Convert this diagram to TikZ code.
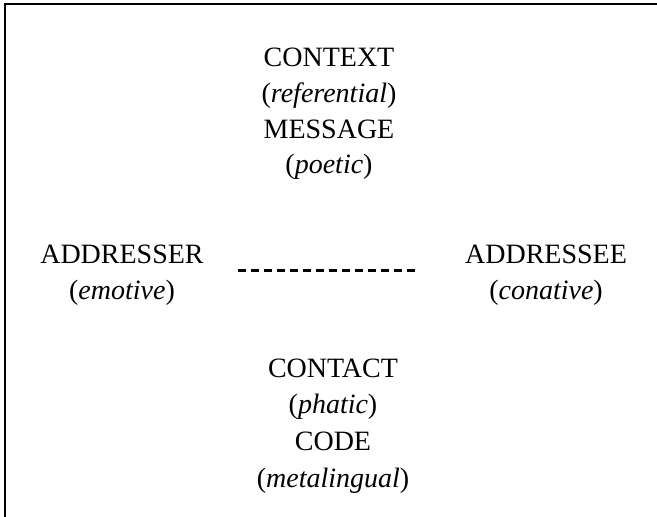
\documentclass[tikz,border=0pt]{standalone}
\usepackage{fontspec}
\setmainfont{Liberation Serif}
\begin{document}
\begin{tikzpicture}[x=1pt,y=-1pt,
  lbl/.style={anchor=base,inner sep=0pt,font=\fontsize{28}{34}\selectfont},
  frameline/.style={line width=1.6pt,line join=miter},
  channel/.style={line width=3pt,dash pattern=on 7.7pt off 5.3pt}]
\useasboundingbox (0,0) rectangle (657,517);
% open frame: left and top edges only
\draw[frameline] (5,517) -- (5,3.7) -- (657,3.7);

% upper block
\node[lbl] (context)  at (329,66.7)  {CONTEXT};
\node[lbl] (referential) at (329,102) {(\textit{referential})};
\node[lbl] (message)  at (329,138)  {MESSAGE};
\node[lbl] (poetic)   at (329,173.5) {(\textit{poetic})};

% sender and receiver
\node[lbl] (addresser) at (122,263.5) {ADDRESSER};
\node[lbl] (emotive)   at (122,299.5) {(\textit{emotive})};
\node[lbl] (addressee) at (546,263.5) {ADDRESSEE};
\node[lbl] (conative)  at (546,299.5) {(\textit{conative})};

% lower block
\node[lbl] (contact)     at (333,377)   {CONTACT};
\node[lbl] (phatic)      at (333,413.5) {(\textit{phatic})};
\node[lbl] (code)        at (333,450)   {CODE};
\node[lbl] (metalingual) at (333,487)   {(\textit{metalingual})};

% dashed channel between the two parties
\coordinate (chl) at (238.3,270.7);
\coordinate (chr) at (417.3,270.7);
\draw[channel] (chl) -- (chr);
\end{tikzpicture}
\end{document}
